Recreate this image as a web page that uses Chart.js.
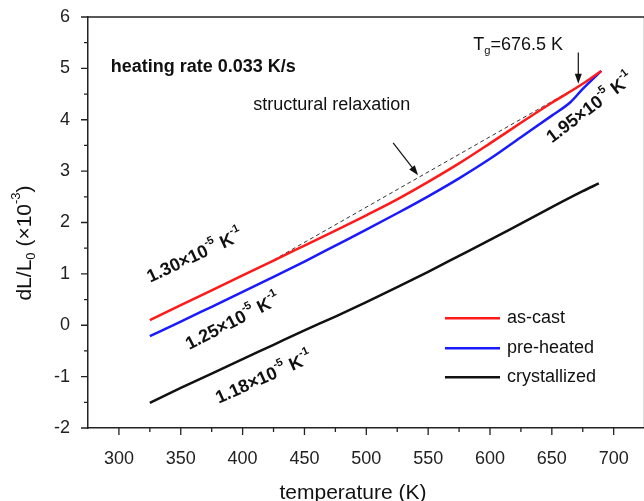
<!DOCTYPE html>
<html>
<head>
<meta charset="utf-8">
<script src="https://cdn.jsdelivr.net/npm/chart.js@4.4.1/dist/chart.umd.min.js"></script>
<style>
  html, body { margin: 0; padding: 0; background: #fff; overflow: hidden; }
  .wrap { width: 644px; height: 501px; overflow: hidden; }
</style>
</head>
<body>
<div class="wrap"><canvas id="dilatometry" width="650" height="501"></canvas></div>
<script>
// dL/L0 (x10^-3) against temperature (K)
let castT = [325, 350, 375, 400, 425, 450, 475, 500, 525, 550, 575, 600, 625, 650, 675, 690];
let castDL = [0.10, 0.39, 0.68, 0.97, 1.26, 1.55, 1.84, 2.14, 2.45, 2.79, 3.15, 3.54, 3.94, 4.33, 4.70, 4.95];

let heatedT = [325, 350, 375, 400, 425, 450, 475, 500, 525, 550, 575, 600, 625, 650, 665, 675, 690];
let heatedDL = [-0.21, 0.07, 0.36, 0.65, 0.94, 1.24, 1.55, 1.86, 2.18, 2.51, 2.86, 3.24, 3.66, 4.08, 4.34, 4.60, 4.95];

let crystT = [325, 350, 375, 400, 425, 450, 475, 500, 525, 550, 575, 600, 625, 650, 675, 688];
let crystDL = [-1.51, -1.22, -0.94, -0.66, -0.38, -0.10, 0.17, 0.45, 0.74, 1.04, 1.35, 1.66, 1.98, 2.30, 2.61, 2.76];

// extrapolated glass line (dashed)
let tangentT = [425, 673];
let tangentDL = [1.27, 4.67];

let xTicks = [300, 350, 400, 450, 500, 550, 600, 650, 700];
let xMinor = [325, 375, 425, 475, 525, 575, 625, 675];
let yTicks = [-2, -1, 0, 1, 2, 3, 4, 5, 6];
let yMinor = [-1.5, -0.5, 0.5, 1.5, 2.5, 3.5, 4.5, 5.5];

let seriesNames = ["as-cast", "pre-heated", "crystallized"];
let seriesColors = ["#ff1a1a", "#1a1aff", "#111111"];

const FONT = "'Liberation Sans', Arial, sans-serif";

function pts(xs, ys) {
    return xs.map((x, i) => ({ x: x, y: ys[i] }));
}

// text with ^{..} superscripts and _{..} subscripts
function drawRich(ctx, str, x, y, angle, size, weight, align) {
    let parts = str.split(/(\^\{[^}]*\}|_\{[^}]*\})/).filter(p => p.length);
    let runs = parts.map(p => {
        if (p[0] === '^') return { t: p.slice(2, -1), sz: size * 0.62, dy: -size * 0.42 };
        if (p[0] === '_') return { t: p.slice(2, -1), sz: size * 0.62, dy: size * 0.3 };
        return { t: p, sz: size, dy: 0 };
    });
    ctx.save();
    ctx.translate(x, y);
    ctx.rotate(angle * Math.PI / 180);
    ctx.textBaseline = "middle";
    ctx.textAlign = "left";
    let total = 0;
    runs.forEach(r => {
        ctx.font = weight + " " + r.sz + "px " + FONT;
        r.w = ctx.measureText(r.t).width;
        total += r.w;
    });
    let cx = align === "left" ? 0 : -total / 2;
    runs.forEach(r => {
        ctx.font = weight + " " + r.sz + "px " + FONT;
        ctx.fillText(r.t, cx, r.dy);
        cx += r.w;
    });
    ctx.restore();
}

function arrow(ctx, x1, y1, x2, y2) {
    let a = Math.atan2(y2 - y1, x2 - x1);
    ctx.save();
    ctx.strokeStyle = "#111";
    ctx.fillStyle = "#111";
    ctx.lineWidth = 1.2;
    ctx.beginPath();
    ctx.moveTo(x1, y1);
    ctx.lineTo(x2 - 6 * Math.cos(a), y2 - 6 * Math.sin(a));
    ctx.stroke();
    ctx.beginPath();
    ctx.moveTo(x2, y2);
    ctx.lineTo(x2 - 10 * Math.cos(a) + 3.5 * Math.sin(a), y2 - 10 * Math.sin(a) - 3.5 * Math.cos(a));
    ctx.lineTo(x2 - 10 * Math.cos(a) - 3.5 * Math.sin(a), y2 - 10 * Math.sin(a) + 3.5 * Math.cos(a));
    ctx.closePath();
    ctx.fill();
    ctx.restore();
}

const decor = {
    id: "decor",
    afterDraw(chart) {
        let ctx = chart.ctx;
        let area = chart.chartArea;
        let xs = chart.scales.x;
        let ys = chart.scales.y;
        let px = v => xs.getPixelForValue(v);
        let py = v => ys.getPixelForValue(v);

        ctx.save();
        ctx.strokeStyle = "#222";
        ctx.lineWidth = 1.5;
        // top and right frame
        ctx.beginPath();
        ctx.moveTo(area.left, area.top);
        ctx.lineTo(area.right, area.top);
        ctx.lineTo(area.right, area.bottom);
        ctx.stroke();

        // outward ticks
        ctx.lineWidth = 1.3;
        ctx.beginPath();
        xTicks.forEach(v => { ctx.moveTo(px(v), area.bottom); ctx.lineTo(px(v), area.bottom + 7); });
        xMinor.forEach(v => { ctx.moveTo(px(v), area.bottom); ctx.lineTo(px(v), area.bottom + 4); });
        yTicks.forEach(v => { ctx.moveTo(area.left, py(v)); ctx.lineTo(area.left - 7, py(v)); });
        yMinor.forEach(v => { ctx.moveTo(area.left, py(v)); ctx.lineTo(area.left - 4, py(v)); });
        ctx.stroke();
        ctx.restore();

        ctx.fillStyle = "#111";
        // axis titles
        drawRich(ctx, "temperature (K)", 353, 493, 0, 21, "normal", "center");
        drawRich(ctx, "dL/L_{0} (×10^{-3})", 25, 243, -90, 21, "normal", "center");

        // annotations
        drawRich(ctx, "heating rate 0.033 K/s", px(293.3), py(5.03), 0, 18, "bold", "left");
        drawRich(ctx, "structural relaxation", px(472), py(4.28), 0, 18, "normal", "center");
        arrow(ctx, px(521.7), py(3.55), px(541.9), py(2.92));
        drawRich(ctx, "T_{g}=676.5 K", px(586.5), py(5.45), 0, 18, "normal", "left");
        arrow(ctx, px(671.4), py(5.31), px(671.4), py(4.70));

        drawRich(ctx, "1.30×10^{-5} K^{-1}", px(361.5), py(1.34), -25, 18, "bold", "center");
        drawRich(ctx, "1.25×10^{-5} K^{-1}", px(392.2), py(0.06), -27, 18, "bold", "center");
        drawRich(ctx, "1.18×10^{-5} K^{-1}", px(417.2), py(-1.03), -24, 18, "bold", "center");
        drawRich(ctx, "1.95×10^{-5} K^{-1}", px(681), py(4.22), -37, 18, "bold", "center");

        // legend
        let legY = [0.136, -0.447, -1.012];
        seriesNames.forEach((name, i) => {
            let y = py(legY[i]);
            ctx.save();
            ctx.strokeStyle = seriesColors[i];
            ctx.lineWidth = 2.5;
            ctx.beginPath();
            ctx.moveTo(px(563.6), y);
            ctx.lineTo(px(608.1), y);
            ctx.stroke();
            ctx.restore();
            ctx.fillStyle = "#111";
            drawRich(ctx, name, px(608.1) + 7, y, 0, 18, "normal", "left");
        });
    }
};

new Chart(document.getElementById("dilatometry"), {
    type: "line",
    data: {
        datasets: [
            { label: seriesNames[0], data: pts(castT, castDL), borderColor: seriesColors[0], borderWidth: 2.5, pointRadius: 0, cubicInterpolationMode: "monotone" },
            { label: seriesNames[1], data: pts(heatedT, heatedDL), borderColor: seriesColors[1], borderWidth: 2.5, pointRadius: 0, cubicInterpolationMode: "monotone" },
            { label: seriesNames[2], data: pts(crystT, crystDL), borderColor: seriesColors[2], borderWidth: 2.5, pointRadius: 0, cubicInterpolationMode: "monotone" },
            { label: "tangent", data: pts(tangentT, tangentDL), borderColor: "#333", borderWidth: 1, borderDash: [4, 3], pointRadius: 0 }
        ]
    },
    options: {
        responsive: false,
        animation: false,
        events: [],
        layout: { padding: { top: 17, right: 5.4, left: 0, bottom: 0 } },
        plugins: { legend: { display: false }, tooltip: { enabled: false } },
        scales: {
            x: {
                type: "linear",
                min: 275,
                max: 725,
                afterBuildTicks: s => { s.ticks = xTicks.map(v => ({ value: v })); },
                afterFit: s => { s.height = 73; s.paddingLeft = 0; s.paddingRight = 0; },
                grid: { display: false },
                border: { display: true, color: "#222", width: 1.5 },
                ticks: { color: "#222", padding: 12, maxRotation: 0, font: { family: FONT, size: 18 } }
            },
            y: {
                type: "linear",
                min: -2,
                max: 6,
                afterBuildTicks: s => { s.ticks = yTicks.map(v => ({ value: v })); },
                afterFit: s => { s.width = 88; s.paddingTop = 0; s.paddingBottom = 0; },
                grid: { display: false },
                border: { display: true, color: "#222", width: 1.5 },
                ticks: { color: "#222", padding: 10, font: { family: FONT, size: 18 } }
            }
        }
    },
    plugins: [decor]
});
</script>
</body>
</html>
